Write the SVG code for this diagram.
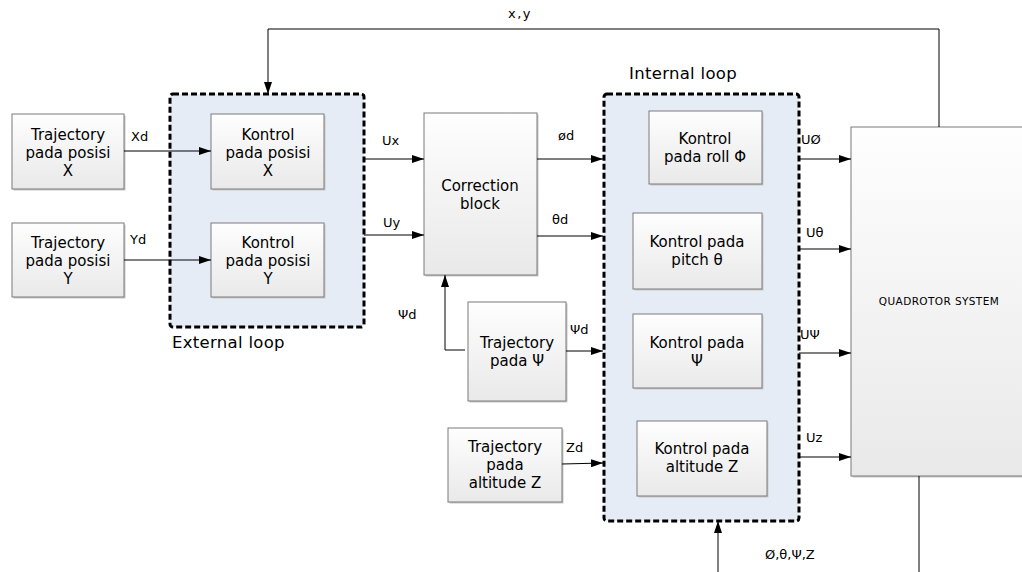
<svg xmlns="http://www.w3.org/2000/svg" width="1022" height="572" viewBox="0 0 1022 572">
  <defs>
    <linearGradient id="boxFill" x1="0" y1="0" x2="0" y2="1">
      <stop offset="0" stop-color="#fefefe"/>
      <stop offset="1" stop-color="#e9e9e9"/>
    </linearGradient>
    <marker id="arrow" viewBox="0 0 12 8" refX="12" refY="4" markerWidth="12" markerHeight="8" markerUnits="userSpaceOnUse" orient="auto">
      <path d="M0,0 L12,4 L0,8 Z" fill="#000"/>
    </marker>
  </defs>
  <style>
    .box { fill: url(#boxFill); stroke: #7a7a7a; stroke-width: 1; }
    .shadow { fill: #c8c8c8; }
    .loop { fill: #e6ecf6; stroke: #000; stroke-width: 3; stroke-dasharray: 6 3; }
    .wire { fill: none; stroke: #000; stroke-width: 1; }
    .arr { marker-end: url(#arrow); }
    text { font-family: "DejaVu Sans", "Noto Sans", sans-serif; fill: #000; }
    .t { font-size: 15px; text-anchor: middle; }
    .cap { font-size: 16.5px; letter-spacing: 0.3px; }
    .lbl { font-size: 13px; }
    .small { font-size: 10.5px; letter-spacing: 0.4px; text-anchor: middle; }
  </style>

  <!-- loop regions -->
  <g id="external-loop">
    <rect class="loop" x="170" y="94" width="194" height="233" rx="3"/>
    <text class="cap" x="172" y="348">External loop</text>
  </g>
  <g id="internal-loop">
    <rect class="loop" x="604" y="94" width="195" height="427" rx="3"/>
    <text class="cap" x="629" y="79">Internal loop</text>
  </g>

  <!-- blocks -->
  <g id="traj-x">
    <rect class="shadow" x="13.5" y="115.5" width="112" height="75"/>
    <rect class="box" x="12" y="114" width="112" height="75"/>
    <text class="t" x="68"><tspan x="68" y="140">Trajectory</tspan><tspan x="68" y="158">pada posisi</tspan><tspan x="68" y="176">X</tspan></text>
  </g>
  <g id="traj-y">
    <rect class="shadow" x="13.5" y="224.5" width="112" height="74"/>
    <rect class="box" x="12" y="223" width="112" height="74"/>
    <text class="t" x="68"><tspan x="68" y="248">Trajectory</tspan><tspan x="68" y="266">pada posisi</tspan><tspan x="68" y="284">Y</tspan></text>
  </g>
  <g id="ctrl-x">
    <rect class="shadow" x="212.5" y="115.5" width="113" height="75"/>
    <rect class="box" x="211" y="114" width="113" height="75"/>
    <text class="t" x="268"><tspan x="268" y="140">Kontrol</tspan><tspan x="268" y="158">pada posisi</tspan><tspan x="268" y="176">X</tspan></text>
  </g>
  <g id="ctrl-y">
    <rect class="shadow" x="212.5" y="224.5" width="113" height="74"/>
    <rect class="box" x="211" y="223" width="113" height="74"/>
    <text class="t" x="268"><tspan x="268" y="248">Kontrol</tspan><tspan x="268" y="266">pada posisi</tspan><tspan x="268" y="284">Y</tspan></text>
  </g>
  <g id="correction">
    <rect class="shadow" x="425.5" y="114.5" width="113" height="162"/>
    <rect class="box" x="424" y="113" width="113" height="162"/>
    <text class="t" x="480"><tspan x="480" y="191">Correction</tspan><tspan x="480" y="209">block</tspan></text>
  </g>
  <g id="traj-psi">
    <rect class="shadow" x="469.5" y="303.5" width="98" height="99"/>
    <rect class="box" x="468" y="302" width="98" height="99"/>
    <text class="t" x="517"><tspan x="517" y="348">Trajectory</tspan><tspan x="517" y="366">pada Ψ</tspan></text>
  </g>
  <g id="traj-z">
    <rect class="shadow" x="449.5" y="429.5" width="114" height="74"/>
    <rect class="box" x="448" y="428" width="114" height="74"/>
    <text class="t" x="505"><tspan x="505" y="452">Trajectory</tspan><tspan x="505" y="470">pada</tspan><tspan x="505" y="488">altitude Z</tspan></text>
  </g>
  <g id="ctrl-roll">
    <rect class="shadow" x="650.5" y="112.5" width="113" height="73"/>
    <rect class="box" x="649" y="111" width="113" height="73"/>
    <text class="t" x="705"><tspan x="705" y="144">Kontrol</tspan><tspan x="705" y="162">pada roll Φ</tspan></text>
  </g>
  <g id="ctrl-pitch">
    <rect class="shadow" x="634.5" y="214.5" width="129" height="76"/>
    <rect class="box" x="633" y="213" width="129" height="76"/>
    <text class="t" x="697"><tspan x="697" y="247">Kontrol pada</tspan><tspan x="697" y="265">pitch  θ</tspan></text>
  </g>
  <g id="ctrl-yaw">
    <rect class="shadow" x="634.5" y="315.5" width="129" height="74"/>
    <rect class="box" x="633" y="314" width="129" height="74"/>
    <text class="t" x="697"><tspan x="697" y="348">Kontrol pada</tspan><tspan x="697" y="366">Ψ</tspan></text>
  </g>
  <g id="ctrl-alt">
    <rect class="shadow" x="638.5" y="422.5" width="130" height="75"/>
    <rect class="box" x="637" y="421" width="130" height="75"/>
    <text class="t" x="702"><tspan x="702" y="454">Kontrol pada</tspan><tspan x="702" y="472">altitude Z</tspan></text>
  </g>
  <g id="quadrotor">
    <rect class="shadow" x="852.5" y="128.5" width="180" height="349"/>
    <rect class="box" x="851" y="127" width="180" height="349"/>
    <text class="small" x="939" y="305">QUADROTOR SYSTEM</text>
  </g>

  <!-- connectors -->
  <g id="connectors">
    <path class="wire arr" d="M124,151 H211"/>
    <path class="wire arr" d="M124,260 H211"/>
    <path class="wire arr" d="M364,159 H424"/>
    <path class="wire arr" d="M364,235 H424"/>
    <path class="wire arr" d="M537,159 H603"/>
    <path class="wire arr" d="M537,236 H603"/>
    <path class="wire arr" d="M465,350 H445 V275"/>
    <path class="wire arr" d="M566,351 H603"/>
    <path class="wire arr" d="M562,464 L603,463"/>
    <path class="wire arr" d="M799,159 H851"/>
    <path class="wire arr" d="M799,249 H851"/>
    <path class="wire arr" d="M799,353 H851"/>
    <path class="wire arr" d="M799,457 H851"/>
    <path class="wire arr" d="M939,127 V29 H268 V94"/>
    <path class="wire" d="M919,476 V572"/>
    <path class="wire arr" d="M718,572 V521"/>

    <text class="lbl" x="131" y="141">Xd</text>
    <text class="lbl" x="130" y="244">Yd</text>
    <text class="lbl" x="382" y="145">Ux</text>
    <text class="lbl" x="383" y="227">Uy</text>
    <text class="lbl" x="558" y="140">ød</text>
    <text class="lbl" x="552" y="224">θd</text>
    <text class="lbl" x="398" y="319">Ψd</text>
    <text class="lbl" x="570" y="334">Ψd</text>
    <text class="lbl" x="566" y="452">Zd</text>
    <text class="lbl" x="801" y="144">UØ</text>
    <text class="lbl" x="806" y="237">Uθ</text>
    <text class="lbl" x="800" y="339">UΨ</text>
    <text class="lbl" x="806" y="442">Uz</text>
    <text class="lbl" x="508" y="18" letter-spacing="1.5">x,y</text>
    <text class="lbl" x="765" y="559" font-size="13.5">Ø,θ,Ψ,Z</text>
  </g>
</svg>
